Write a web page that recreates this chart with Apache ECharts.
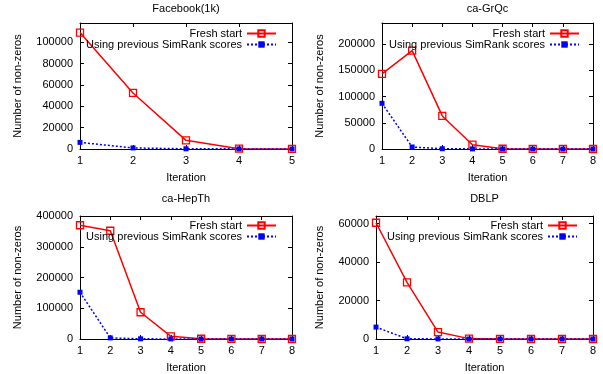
<!DOCTYPE html>
<html>
<head>
<meta charset="utf-8">
<script src="https://cdn.jsdelivr.net/npm/echarts@6/dist/echarts.min.js"></script>
<style>
  html, body { margin: 0; padding: 0; background: #fff; }
  #chart { width: 603px; height: 374px; }
</style>
</head>
<body>
<div id="chart"></div>
<script>
// iterations
const iter5 = ['1', '2', '3', '4', '5'];
const iter8 = ['1', '2', '3', '4', '5', '6', '7', '8'];

// Facebook(1k)
const fbFresh = [109000, 52500, 8100, 300, 100];
const fbPrev = [6200, 1000, 200, 100, 50];
// ca-GrQc
const grqcFresh = [143000, 187500, 63000, 8200, 500, 100, 50, 0];
const grqcPrev = [87000, 3800, 500, 200, 100, 50, 0, 0];
// ca-HepTh
const hepFresh = [370000, 352000, 87000, 8600, 800, 100, 50, 0];
const hepPrev = [152000, 3500, 600, 200, 100, 50, 0, 0];
// DBLP
const dblpFresh = [60500, 29500, 3600, 200, 50, 0, 0, 0];
const dblpPrev = [6200, 100, 50, 0, 0, 0, 0, 0];

const titles = ['Facebook(1k)', 'ca-GrQc', 'ca-HepTh', 'DBLP'];
const seriesNames = ['Fresh start', 'Using previous SimRank scores'];

const FONT = 'Liberation Sans, Arial, sans-serif';
const FS = 11;

const panels = [
  { cats: iter5, fresh: fbFresh, prev: fbPrev, max: 118000, step: 20000,
    grid: { left: 80, right: 311, top: 23, bottom: 225 }, nameGap: 57, legRight: 326, legTop: 28, titleTop: 3 },
  { cats: iter8, fresh: grqcFresh, prev: grqcPrev, max: 240000, step: 50000,
    grid: { left: 382, right: 10, top: 23, bottom: 225 }, nameGap: 57, legRight: 23, legTop: 28, titleTop: 3 },
  { cats: iter8, fresh: hepFresh, prev: hepPrev, max: 400000, step: 100000,
    grid: { left: 80, right: 311, top: 216, bottom: 33 }, nameGap: 57, legRight: 326, legTop: 220, titleTop: 193 },
  { cats: iter8, fresh: dblpFresh, prev: dblpPrev, max: 64000, step: 20000,
    grid: { left: 376, right: 10, top: 216, bottom: 33 }, nameGap: 51, legRight: 25, legTop: 220, titleTop: 193 }
];

const axisLine = { show: true, onZero: false, lineStyle: { color: '#000', width: 1 } };
const tick = { show: true, inside: true, length: 4, lineStyle: { color: '#000' } };

const option = {
  animation: false,
  backgroundColor: '#fff',
  textStyle: { fontFamily: FONT },
  title: [],
  legend: [],
  grid: [],
  xAxis: [],
  yAxis: [],
  series: []
};

panels.forEach((p, i) => {
  option.grid.push(p.grid);
  const plotW = 603 - p.grid.left - p.grid.right;
  option.title.push({
    text: titles[i],
    left: p.grid.left + plotW / 2,
    top: p.titleTop,
    padding: 0,
    textAlign: 'center',
    textStyle: { fontFamily: FONT, fontSize: FS, fontWeight: 'normal', color: '#000' }
  });

  // bottom + mirrored top x axes
  option.xAxis.push({
    type: 'category', gridIndex: i, data: p.cats, boundaryGap: false,
    name: 'Iteration', nameLocation: 'middle', nameGap: 23,
    nameTextStyle: { fontFamily: FONT, fontSize: FS, color: '#000' },
    axisLine: axisLine, axisTick: Object.assign({ alignWithLabel: true }, tick),
    axisLabel: { fontFamily: FONT, fontSize: FS, color: '#000', margin: 6 },
    splitLine: { show: false }
  });
  option.xAxis.push({
    type: 'category', gridIndex: i, data: p.cats, boundaryGap: false, position: 'top',
    axisLine: axisLine, axisTick: tick, axisLabel: { show: false }, splitLine: { show: false }
  });

  // left + mirrored right y axes
  option.yAxis.push({
    type: 'value', gridIndex: i, min: 0, max: p.max, interval: p.step,
    name: 'Number of non-zeros', nameLocation: 'middle', nameGap: p.nameGap,
    nameTextStyle: { fontFamily: FONT, fontSize: FS, color: '#000' },
    axisLine: axisLine, axisTick: tick,
    axisLabel: {
      fontFamily: FONT, fontSize: FS, color: '#000', margin: 7,
      showMaxLabel: p.max % p.step === 0,
      formatter: (v) => String(v)
    },
    splitLine: { show: false }
  });
  option.yAxis.push({
    type: 'value', gridIndex: i, min: 0, max: p.max, interval: p.step, position: 'right',
    axisLine: axisLine, axisTick: tick, axisLabel: { show: false }, splitLine: { show: false }
  });

  const freshName = seriesNames[0];
  const prevName = seriesNames[1];
  option.series.push({
    name: freshName, type: 'line', xAxisIndex: i * 2, yAxisIndex: i * 2,
    data: p.fresh, symbol: 'rect', symbolSize: 7, showAllSymbol: true,
    lineStyle: { color: '#ff0000', width: 1.5 },
    itemStyle: { color: 'rgba(255,255,255,0)', borderColor: '#ff0000', borderWidth: 1.3 },
    emphasis: { disabled: true }
  });
  option.series.push({
    name: prevName, type: 'line', xAxisIndex: i * 2, yAxisIndex: i * 2,
    data: p.prev, symbol: 'rect', symbolSize: 5, showAllSymbol: true,
    lineStyle: { color: '#0000ff', width: 1.5, type: [2, 2] },
    itemStyle: { color: '#0000ff' },
    emphasis: { disabled: true }
  });

  [freshName, prevName].forEach((n, k) => {
    option.legend.push({
      data: [n], align: 'right', right: p.legRight, top: p.legTop + k * 11,
      itemWidth: 29, itemHeight: 8, padding: 0, selectedMode: false,
      textStyle: { fontFamily: FONT, fontSize: FS, color: '#000' }
    });
  });
});

const chart = echarts.init(document.getElementById('chart'), null, { renderer: 'canvas' });
chart.setOption(option);
</script>
</body>
</html>
